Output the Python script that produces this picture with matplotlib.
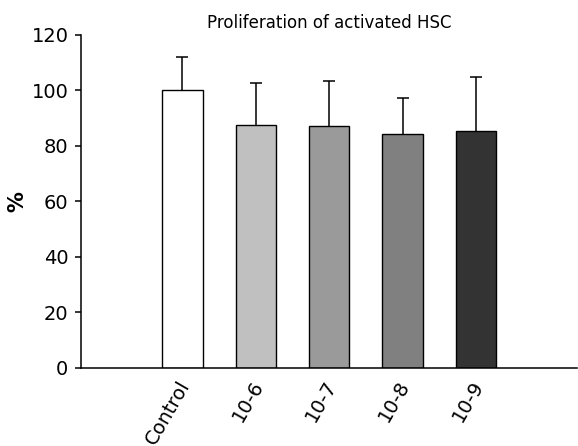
import matplotlib
matplotlib.use("Agg")
import matplotlib.pyplot as plt
import matplotlib.transforms as mtransforms

groups = ["Control", "10-6", "10-7", "10-8", "10-9"]
means = [100, 87.5, 86.9, 84.1, 85.2]
err_up = [11.8, 15.1, 16.2, 12.9, 19.4]
colors = ["#ffffff", "#c0c0c0", "#9a9a9a", "#808080", "#333333"]

fig = plt.figure(figsize=(5.78, 4.46), dpi=100)
ax = fig.add_axes([0.140, 0.1756, 0.858, 0.747])

x = list(range(len(groups)))
# bars drawn over the error bars so only the upper half shows
ax.bar(x, means, width=0.55, color=colors, edgecolor="black", linewidth=1.0, zorder=2)
ax.errorbar(x, means, yerr=err_up, fmt="none",
            ecolor="black", elinewidth=1.1, capsize=4, capthick=1.1, zorder=1)

ax.set_xlim(-1.383, 5.375)
ax.set_ylim(0, 120)
ax.set_yticks([0, 20, 40, 60, 80, 100, 120])
ax.tick_params(axis="y", labelsize=14, length=4, width=1.1, direction="out", pad=5)
ax.set_xticks(x)
ax.set_xticklabels(groups, rotation=60, ha="right", va="center",
                   rotation_mode="anchor", fontsize=14)
ax.tick_params(axis="x", length=0, pad=10)
shift = mtransforms.ScaledTranslation(3 / 100, 0, fig.dpi_scale_trans)
for lab in ax.get_xticklabels():
    lab.set_transform(lab.get_transform() + shift)

ax.spines["top"].set_visible(False)
ax.spines["right"].set_visible(False)
ax.spines["left"].set_linewidth(1.1)
ax.spines["bottom"].set_linewidth(1.1)

ax.set_ylabel("%", fontsize=15, fontweight="bold")
ax.yaxis.set_label_coords(-0.107, 0.5)
ax.set_title("Proliferation of activated HSC", fontsize=12, pad=5)

fig.savefig("out.png", dpi=100)
